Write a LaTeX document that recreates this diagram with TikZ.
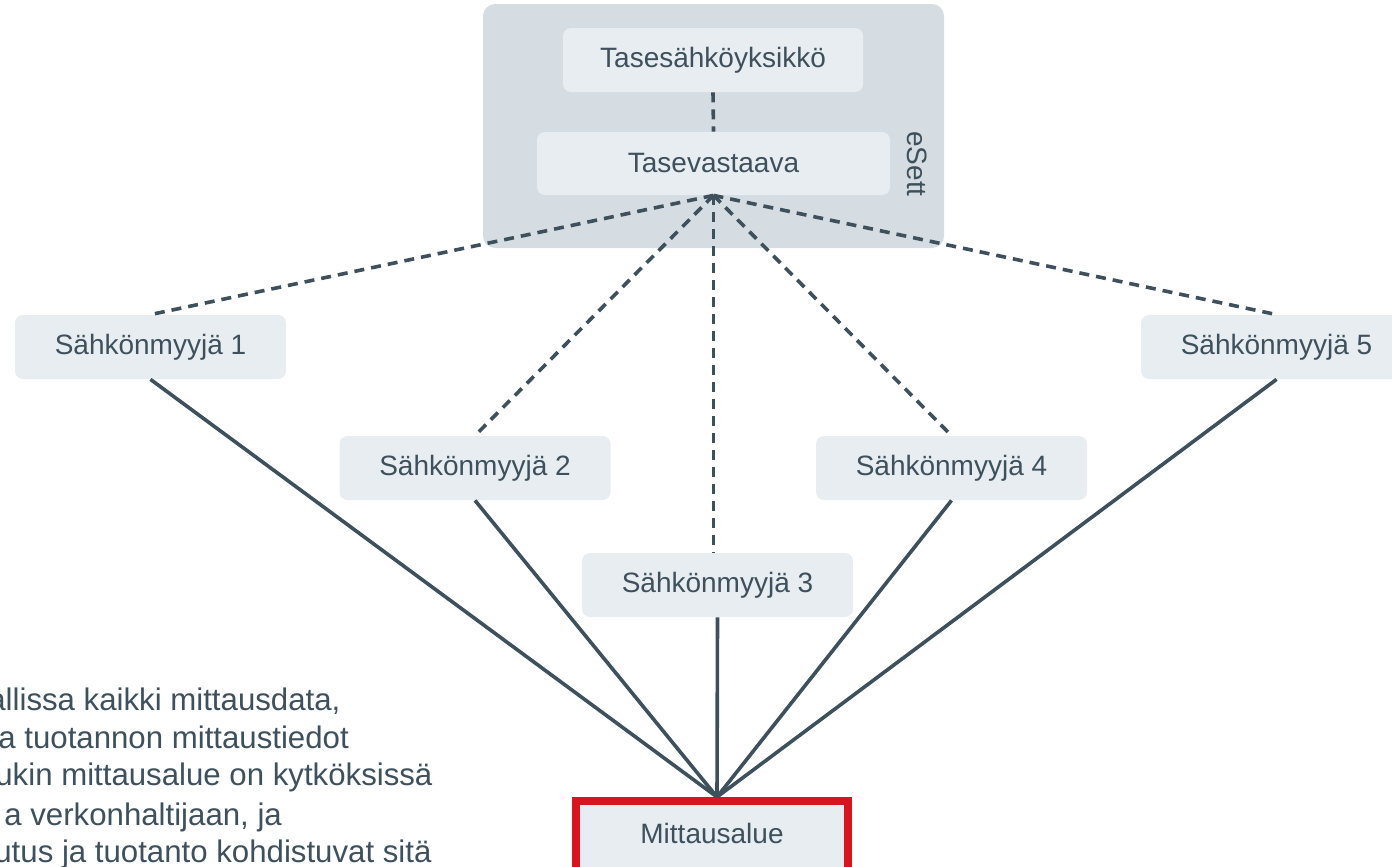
\documentclass[tikz,border=0pt]{standalone}
\usepackage{fontspec}
\setmainfont{Liberation Sans}
\usetikzlibrary{positioning}

\definecolor{inkgrey}{HTML}{3D505C}
\definecolor{boxfill}{HTML}{E8EDF1}
\definecolor{esettfill}{HTML}{D5DDE3}
\definecolor{mittared}{HTML}{D7141F}

\begin{document}
\begin{tikzpicture}[x=0.5pt,y=-0.5pt,
    rolebox/.style={rectangle,rounded corners=4pt,fill=boxfill,inner sep=0pt,
        text=inkgrey,font=\fontsize{14}{16}\selectfont},
    myyja/.style={rolebox,minimum width=135.5pt,minimum height=32pt},
    link/.style={draw=inkgrey,line width=1.8pt},
    dashlink/.style={link,dash pattern=on 5pt off 3.5pt},
    notetext/.style={anchor=base west,inner sep=0pt,text=inkgrey,
        font=\fontsize{15.6}{19}\selectfont}]
    \useasboundingbox (0,0) rectangle (1392,867);
    \clip (0,0) rectangle (1392,867);

    % eSett container
    \node[rectangle,rounded corners=6pt,fill=esettfill,minimum width=230.5pt,
        minimum height=122pt] (esett) at (713.5,126) {};
    \node[rotate=-90,text=inkgrey,font=\fontsize{14}{16}\selectfont] (esettlabel) at (917,164) {eSett};
    \node[rolebox,minimum width=150pt,minimum height=32pt] (tase) at (713,60) {Tasesähköyksikkö};
    \node[rolebox,minimum width=176.5pt,minimum height=31.5pt] (tv) at (713.5,163.5) {Tasevastaava};

    % sellers
    \node[myyja] (m1) at (150.5,347) {Sähkönmyyjä 1};
    \node[myyja] (m2) at (475,468) {Sähkönmyyjä 2};
    \node[myyja] (m3) at (717.5,585) {Sähkönmyyjä 3};
    \node[myyja] (m4) at (951.5,468) {Sähkönmyyjä 4};
    \node[myyja] (m5) at (1276.5,347) {Sähkönmyyjä 5};

    % metering area
    \node[rectangle,draw=mittared,line width=4pt,fill=boxfill,inner sep=0pt,
        minimum width=136pt,minimum height=37pt,text=inkgrey,
        font=\fontsize{14}{16}\selectfont] (mitta) at (712,838) {};
    \node[text=inkgrey,font=\fontsize{14}{16}\selectfont] (mittatext) at (712,833) {Mittausalue};
    \coordinate (conv) at (717,797);

    % balance responsibility
    \draw[dashlink] (tase.south) -- (tv.north);
    \draw[dashlink] (tv.south) -- (m1.north);
    \draw[dashlink] (tv.south) -- (m2.north);
    \draw[dashlink] (tv.south) -- (tv.south |- m3.north);
    \draw[dashlink] (tv.south) -- (m4.north);
    \draw[dashlink] (tv.south) -- (m5.north);

    % metering links
    \draw[link] (m1.south) -- (conv);
    \draw[link] (m2.south) -- (conv);
    \draw[link] (m3.south) -- (conv);
    \draw[link] (m4.south) -- (conv);
    \draw[link] (m5.south) -- (conv);

    % note
    \node[notetext] (note1) at (-12,710) {allissa kaikki mittausdata,};
    \node[notetext] (note2) at (-2,748) {a tuotannon mittaustiedot};
    \node[notetext] (note3) at (-5,785) {ukin mittausalue on kytköksissä};
    \node[notetext] (note4) at (4,825) {a verkonhaltijaan, ja};
    \node[notetext] (note5) at (-6,862) {utus ja tuotanto kohdistuvat sitä};
\end{tikzpicture}
\end{document}
